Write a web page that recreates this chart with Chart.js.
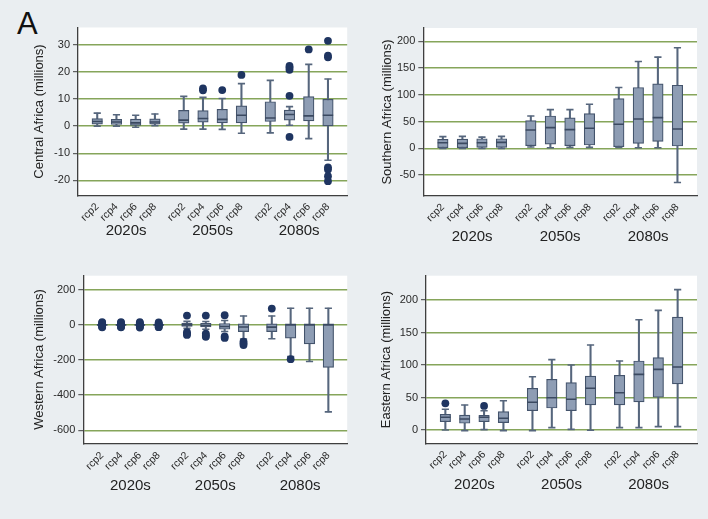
<!DOCTYPE html>
<html>
<head>
<meta charset="utf-8">
<script src="https://cdn.jsdelivr.net/npm/chart.js@4.4.1/dist/chart.umd.min.js"></script>
<style>
  html, body { margin: 0; padding: 0; background: #eaeef1; }
  body { width: 708px; height: 519px; position: relative; overflow: hidden; font-family: "Liberation Sans", Arial, sans-serif; }
  .panel { position: absolute; width: 354px; }
  .panel canvas { display: block; }
  #letter { position: absolute; left: 17px; top: 8px; font-size: 31px; line-height: 31px; color: #111; }
</style>
</head>
<body>
<div id="letter">A</div>
<div class="panel" style="left:0;top:0;height:260px"><canvas id="c1" width="354" height="260"></canvas></div>
<div class="panel" style="left:354px;top:0;height:260px"><canvas id="c2" width="354" height="260"></canvas></div>
<div class="panel" style="left:0;top:260px;height:259px"><canvas id="c3" width="354" height="259"></canvas></div>
<div class="panel" style="left:354px;top:260px;height:259px"><canvas id="c4" width="354" height="259"></canvas></div>
<script>
// ---------- categories ----------
const scenarios = ['rcp2', 'rcp4', 'rcp6', 'rcp8'];
const periods = ['2020s', '2050s', '2080s'];

// ---------- Central Africa (millions) ----------
const centralLow  = [0, 0, -0.4, 0.2,   -1.1, -1.1, -1.2, -2.6,   -2.5, 0.3, -4.6, -12.6];
const centralQ1   = [0.7, 0.6, 0.0, 0.7,  1.1, 1.5, 1.2, 1.2,     1.7, 2.2, 1.9, 0.1];
const centralMed  = [1.7, 1.5, 1.2, 1.5,  2.2, 2.8, 2.5, 4.0,     3.0, 4.3, 3.8, 4.0];
const centralQ3   = [2.8, 2.5, 2.6, 2.7,  5.8, 5.7, 6.2, 7.5,     9.0, 5.9, 10.9, 9.9];
const centralHigh = [4.8, 4.2, 4.0, 4.5,  11.0, 10.6, 10.2, 15.7, 16.9, 7.2, 22.8, 17.4];
const centralOut  = [[], [], [], [], [], [13.2, 13.9], [13.3], [18.9],
                     [], [20.8, 21.6, 22.2, 11.2, -4.0], [28.3], [31.5, 26.0, 25.4, -15.2, -16.0, -18.5, -20.3]];

// ---------- Southern Africa (millions) ----------
const southLow  = [0, 0, 0, 0,            2.5, 1.3, 1.9, 1.9,     1.9, 1.2, 1.2, -63.8];
const southQ1   = [1.3, 1.2, 2.0, 1.9,    5.0, 8.1, 5.0, 6.3,     3.1, 9.4, 13.1, 4.4];
const southMed  = [10.6, 9.4, 10.6, 11.3, 34.4, 38.8, 35.0, 37.5, 45.0, 55.0, 57.5, 36.3];
const southQ3   = [16.9, 17.5, 18.0, 18.0, 51.9, 60.6, 56.9, 65.0, 93.1, 113.8, 120.6, 118.0];
const southHigh = [21.9, 22.5, 21.0, 22.5, 60.6, 72.5, 72.5, 82.5, 113.8, 162.5, 170.6, 188.0];
const southOut  = [[], [], [], [], [], [], [], [], [], [], [], []];

// ---------- Western Africa (millions) ----------
const westLow  = [-4, -4, -4, -4,     -20, -25, -38, -80,    -79, -180, -208, -495];
const westQ1   = [-2, -2, -2, -2,     -9, -12, -25, -38,     -38, -75, -108, -242];
const westMed  = [0, 0, 0, 0,         0, -4, -9, -12,        -13, 0, 0, 0];
const westQ3   = [2, 2, 2, 2,         10, 9, 8, 6,           6, 6, 6, 6];
const westHigh = [4, 4, 4, 4,         20, 19, 25, 51,        51, 95, 95, 95];
const westOut  = [[16, 11, 6, -6, -11, -14], [16, 11, 6, -6, -11, -14], [15, 10, 5, -6, -11, -15], [14, 9, 4, -5, -10, -13],
                  [53, -42, -50, -57], [53, -50, -60, -68], [55, -66, -74], [-95, -105, -115],
                  [93], [-195], [], []];

// ---------- Eastern Africa (millions) ----------
const eastLow  = [0, -1, 0.5, -1,        -1, 3.6, 1, -0.5,        3.6, 3.6, 5.1, 5.1];
const eastQ1   = [12.8, 10.3, 12.8, 11.3, 29.7, 33.8, 29.7, 38.5, 38.5, 43.1, 50.3, 70.8];
const eastMed  = [19.5, 16.9, 19.5, 18.0, 42.6, 49.7, 47.2, 64.1, 57.4, 85.6, 93.3, 96.9];
const eastQ3   = [24.1, 23.0, 22.6, 28.2, 64.1, 78.0, 72.8, 83.0, 84.1, 106.2, 111.3, 173.8];
const eastHigh = [31.8, 38.5, 29.7, 45.0, 82.0, 108.2, 100.0, 130.8, 106.2, 169.7, 184.0, 216.0];
const eastOut  = [[41], [], [37], [], [], [], [], [], [], [], [], []];

// ---------- styling ----------
const BOX_FILL = '#8e9db4';
const BOX_EDGE = '#44546c';
const WHISKER = '#56667d';
const MEDIAN = '#3a4960';
const OUTLIER = '#1f3561';
const GRID = '#86a55a';
const AXIS = '#3f3f3f';
const FONT = "'Liberation Sans', Arial, sans-serif";

// slot positions: four scenarios per period, with a gap between periods
const slots = [];
periods.forEach((p, g) => scenarios.forEach((s, i) => slots.push(g * 4.5 + i)));
const periodCentres = periods.map((p, g) => g * 4.5 + 1.5);

const plotBg = {
  id: 'plotBg',
  beforeDraw(chart) {
    const a = chart.chartArea, ctx = chart.ctx;
    ctx.save();
    ctx.fillStyle = '#ffffff';
    ctx.fillRect(a.left, a.top, a.right - a.left, a.bottom - a.top);
    ctx.restore();
  }
};

function makePanel(id, p) {
  const boxData = slots.map((x, i) => ({ x, y: [p.q1[i], p.q3[i]] }));
  const whiskData = slots.map((x, i) => ({ x, y: [p.low[i], p.high[i]] }));
  const capData = [];
  slots.forEach((x, i) => { capData.push({ x, y: p.low[i] }); capData.push({ x, y: p.high[i] }); });
  const medData = slots.map((x, i) => ({ x, y: p.med[i] }));
  const outData = [];
  slots.forEach((x, i) => p.out[i].forEach(v => outData.push({ x, y: v })));

  new Chart(document.getElementById(id), {
    type: 'bar',
    data: {
      datasets: [
        { type: 'scatter', data: outData, pointRadius: 3.9, pointBackgroundColor: OUTLIER, pointBorderColor: OUTLIER, pointBorderWidth: 0, order: 0 },
        { type: 'scatter', data: medData, pointStyle: 'line', pointRadius: 5.2, pointBorderColor: MEDIAN, pointBorderWidth: 1.6, order: 1 },
        { type: 'scatter', data: capData, pointStyle: 'line', pointRadius: 3.6, pointBorderColor: WHISKER, pointBorderWidth: 1.6, order: 1 },
        { type: 'bar', data: boxData, grouped: false, barThickness: 10.5, backgroundColor: BOX_FILL, borderColor: BOX_EDGE, borderWidth: 1.2, borderSkipped: false, order: 2 },
        { type: 'bar', data: whiskData, grouped: false, barThickness: 1.4, backgroundColor: WHISKER, borderWidth: 0, order: 3 }
      ]
    },
    plugins: [plotBg],
    options: {
      responsive: false,
      animation: false,
      events: [],
      layout: { padding: { top: p.padTop, right: p.padRight, left: 0, bottom: 0 } },
      plugins: { legend: { display: false }, tooltip: { enabled: false } },
      scales: {
        x: {
          type: 'linear', position: 'bottom', weight: 0, min: -1, max: 13, offset: false,
          grid: { display: false, drawTicks: false },
          border: { display: true, color: AXIS, width: 1.3 },
          afterBuildTicks: s => { s.ticks = slots.map(v => ({ value: v })); },
          afterFit: s => { s.height = p.xH; },
          ticks: {
            autoSkip: false, minRotation: 45, maxRotation: 45, padding: p.xPad,
            font: { family: FONT, size: 10.5 }, color: '#2a2a2a',
            callback: (v, i) => scenarios[i % 4]
          }
        },
        x2: {
          type: 'linear', position: 'bottom', weight: 1, min: -1, max: 13, offset: false,
          grid: { display: false, drawTicks: false },
          border: { display: false },
          afterBuildTicks: s => { s.ticks = periodCentres.map(v => ({ value: v })); },
          afterFit: s => { s.height = p.x2H; },
          ticks: {
            autoSkip: false, minRotation: 0, maxRotation: 0, padding: p.x2Pad,
            font: { family: FONT, size: 15 }, color: '#222',
            callback: (v, i) => periods[i]
          }
        },
        y: {
          type: 'linear', position: 'left', min: p.yMin, max: p.yMax,
          afterFit: s => { s.width = p.yW; },
          grid: { color: GRID, lineWidth: 1.4, tickColor: AXIS, tickWidth: 1, tickLength: 5, drawTicks: true },
          border: { display: true, color: AXIS, width: 1.3 },
          ticks: { stepSize: p.step, includeBounds: false, padding: 3, font: { family: FONT, size: 11 }, color: '#2a2a2a' },
          title: { display: true, text: p.title, font: { family: FONT, size: 13 }, color: '#222', padding: { top: p.titlePad, bottom: 0 } }
        }
      }
    }
  });
}

makePanel('c1', { low: centralLow, q1: centralQ1, med: centralMed, q3: centralQ3, high: centralHigh, out: centralOut,
  title: 'Central Africa (millions)', yMin: -25.6, yMax: 36.4, step: 10,
  padTop: 27.5, padRight: 3, yW: 78, titlePad: 32, xH: 26, x2H: 38.5, xPad: 5, x2Pad: 0 });
makePanel('c2', { low: southLow, q1: southQ1, med: southMed, q3: southQ3, high: southHigh, out: southOut,
  title: 'Southern Africa (millions)', yMin: -89, yMax: 225, step: 50,
  padTop: 28, padRight: 11, yW: 69.3, titlePad: 25.5, xH: 30, x2H: 34, xPad: 5, x2Pad: 2 });
makePanel('c3', { low: westLow, q1: westQ1, med: westMed, q3: westQ3, high: westHigh, out: westOut,
  title: 'Western Africa (millions)', yMin: -674, yMax: 280, step: 200,
  padTop: 15.7, padRight: 2.3, yW: 83.3, titlePad: 32, xH: 33, x2H: 42.7, xPad: 6, x2Pad: 1 });
makePanel('c4', { low: eastLow, q1: eastQ1, med: eastMed, q3: eastQ3, high: eastHigh, out: eastOut,
  title: 'Eastern Africa (millions)', yMin: -20.5, yMax: 237.4, step: 50,
  padTop: 15.7, padRight: 11, yW: 72, titlePad: 24.5, xH: 31, x2H: 44.7, xPad: 5, x2Pad: 2 });
</script>
</body>
</html>
